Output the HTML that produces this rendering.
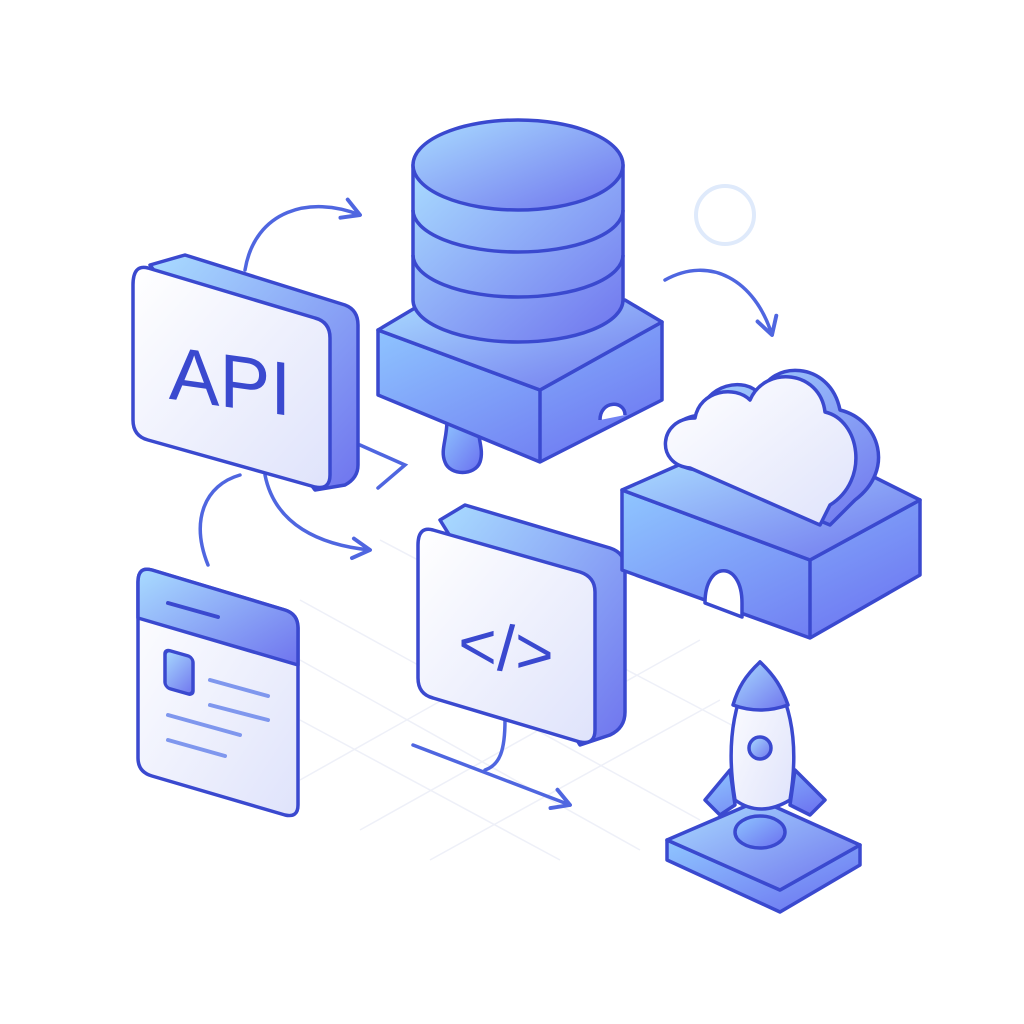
<!DOCTYPE html>
<html><head><meta charset="utf-8"><style>html,body{margin:0;padding:0;background:#fff}svg{display:block}</style></head>
<body>
<svg width="1024" height="1024" viewBox="0 0 1024 1024" xmlns="http://www.w3.org/2000/svg">
<defs>
<linearGradient id="g" x1="0" y1="0" x2="1" y2="1"><stop offset="0" stop-color="#a9dcff"/><stop offset="1" stop-color="#6f74ee"/></linearGradient>
<linearGradient id="g2" x1="0" y1="0" x2="1" y2="1"><stop offset="0" stop-color="#8fc6ff"/><stop offset="1" stop-color="#6a6ff0"/></linearGradient>
<linearGradient id="w" x1="0" y1="0" x2="1" y2="1"><stop offset="0" stop-color="#ffffff"/><stop offset="1" stop-color="#dfe3fb"/></linearGradient>
<marker id="a" viewBox="0 0 10 10" refX="8" refY="5" markerWidth="7" markerHeight="7" orient="auto"><path d="M1,1 L8,5 L1,9" fill="none" stroke="#4f66e0" stroke-width="1.6" stroke-linecap="round" stroke-linejoin="round"/></marker>
</defs>
<g stroke="#eef0f8" stroke-width="1.5" fill="none">
<path d="M300,600 L700,820 M300,660 L640,850 M300,720 L560,860 M380,540 L760,740 M360,830 L700,640 M300,780 L620,600 M430,860 L720,700"/>
</g>
<circle cx="725" cy="215" r="29" fill="none" stroke="#dfeafb" stroke-width="4"/>
<g fill="none" stroke="#4f66e0" stroke-width="3.5" stroke-linecap="round">
<path d="M245,270 C255,210 310,195 360,215" marker-end="url(#a)"/>
<path d="M665,280 C710,255 755,280 772,335" marker-end="url(#a)"/>
<path d="M265,475 C275,525 320,545 370,550" marker-end="url(#a)"/>
<path d="M208,565 C190,520 205,485 240,475"/>
<path d="M413,745 L570,805" marker-end="url(#a)"/>
<path d="M505,720 C505,750 500,765 485,770"/>
<path d="M360,445 L405,465 L378,488"/>
</g>
<g stroke="#3a49cf" stroke-width="3.5" stroke-linejoin="round">
<!-- DB knob -->
<path d="M447,420 C447,440 440,450 445,462 C450,476 475,476 480,462 C484,450 478,440 478,425 Z" fill="url(#g2)"/>
<!-- DB base -->
<path d="M378,330 L540,390 L662,322 L662,400 L540,462 L378,395 Z" fill="url(#g2)"/>
<path d="M378,330 L420,305 L625,300 L662,322 L540,390 Z" fill="url(#g)"/>
<path d="M540,390 L540,462" fill="none"/>
<path d="M600,420 C600,400 625,400 625,415" fill="#fff"/>
<!-- cylinder -->
<path d="M413,165 L413,300 A105,42 0 0 0 623,300 L623,165 Z" fill="url(#g)"/>
<path d="M413,210 A105,42 0 0 0 623,210 M413,255 A105,42 0 0 0 623,255" fill="none"/>
<ellipse cx="518" cy="165" rx="105" ry="45" fill="url(#g)"/>
<!-- API card -->
<path d="M150,265 L185,255 L345,305 Q358,310 358,325 L358,465 Q358,478 345,485 L315,490 Z" fill="url(#g)"/>
<path d="M148,268 L315,318 Q330,322 330,338 L330,475 Q330,490 315,487 L148,440 Q133,436 133,420 L133,285 Q133,264 148,268 Z" fill="url(#w)"/>
<!-- code card -->
<path d="M440,520 L465,505 L610,548 Q625,553 625,568 L625,712 Q625,728 610,735 L580,745 Z" fill="url(#g)"/>
<path d="M433,530 L580,572 Q595,577 595,592 L595,730 Q595,745 580,742 L433,698 Q418,694 418,678 L418,545 Q418,526 433,530 Z" fill="url(#w)"/>
<!-- web card -->
<path d="M152,570 L285,610 Q298,614 298,628 L298,805 Q298,818 285,815 L152,776 Q138,772 138,758 L138,582 Q138,566 152,570 Z" fill="url(#w)"/>
<path d="M152,570 L285,610 Q298,614 298,628 L298,665 L138,618 L138,582 Q138,566 152,570 Z" fill="url(#g)"/>
<rect x="165" y="652" width="28" height="38" rx="5" fill="url(#g)" transform="skewY(16) translate(0,-50)"/>
<!-- cloud block -->
<path d="M622,490 L810,560 L920,500 L920,575 L810,638 L622,570 Z" fill="url(#g2)"/>
<path d="M622,490 L690,460 L860,470 L920,500 L810,560 Z" fill="url(#g)"/>
<path d="M810,560 L810,638" fill="none"/>
<path d="M705,603 C705,560 742,560 742,603 L742,617 L705,603 Z" fill="#fff"/>
<!-- cloud -->
<path d="M700,470 C660,470 655,420 700,415 C705,385 745,375 760,395 C770,360 830,360 840,410 C880,420 895,470 855,500 L830,525 L700,470 Z" fill="url(#g)"/>
<path d="M690,468 C655,465 658,418 695,418 C700,390 735,385 750,400 C765,365 820,370 825,412 C860,420 870,480 830,505 L820,525 L690,468 Z" fill="url(#w)"/>
<!-- rocket base -->
<path d="M667,840 L780,890 L860,845 L860,865 L780,912 L667,860 Z" fill="url(#g2)"/>
<path d="M667,840 L760,800 L860,845 L780,890 Z" fill="url(#g)"/>
<!-- rocket -->
<path d="M730,770 L705,800 L720,815 L735,805 Z M795,770 L825,800 L810,815 L790,805 Z" fill="url(#g2)"/>
<ellipse cx="760" cy="832" rx="25" ry="16" fill="url(#g2)"/>
<path d="M760,662 C735,690 725,740 735,800 Q760,818 790,800 C800,740 790,690 760,662 Z" fill="url(#w)"/>
<path d="M760,662 C745,676 738,688 733,705 Q760,715 788,705 C782,688 775,676 760,662 Z" fill="url(#g)"/>
<circle cx="760" cy="748" r="11" fill="url(#g)"/>
</g>
<g stroke="#3a49cf" stroke-width="4" stroke-linecap="round">
<path d="M168,603 L218,617"/>
</g>
<g stroke="#7f97ee" stroke-width="4" stroke-linecap="round">
<path d="M210,680 L268,696 M210,705 L268,720 M168,715 L240,735 M168,740 L225,756"/>
</g>
<text x="230" y="405" font-family="Liberation Sans, sans-serif" font-size="76" fill="#3a49cf" text-anchor="middle" transform="skewY(8) translate(0,-30)">API</text>
<text x="506" y="665" font-family="Liberation Sans, sans-serif" font-size="66" fill="#3a49cf" text-anchor="middle" transform="skewY(8) translate(0,-65)">&lt;/&gt;</text>
</svg>
</body></html>
